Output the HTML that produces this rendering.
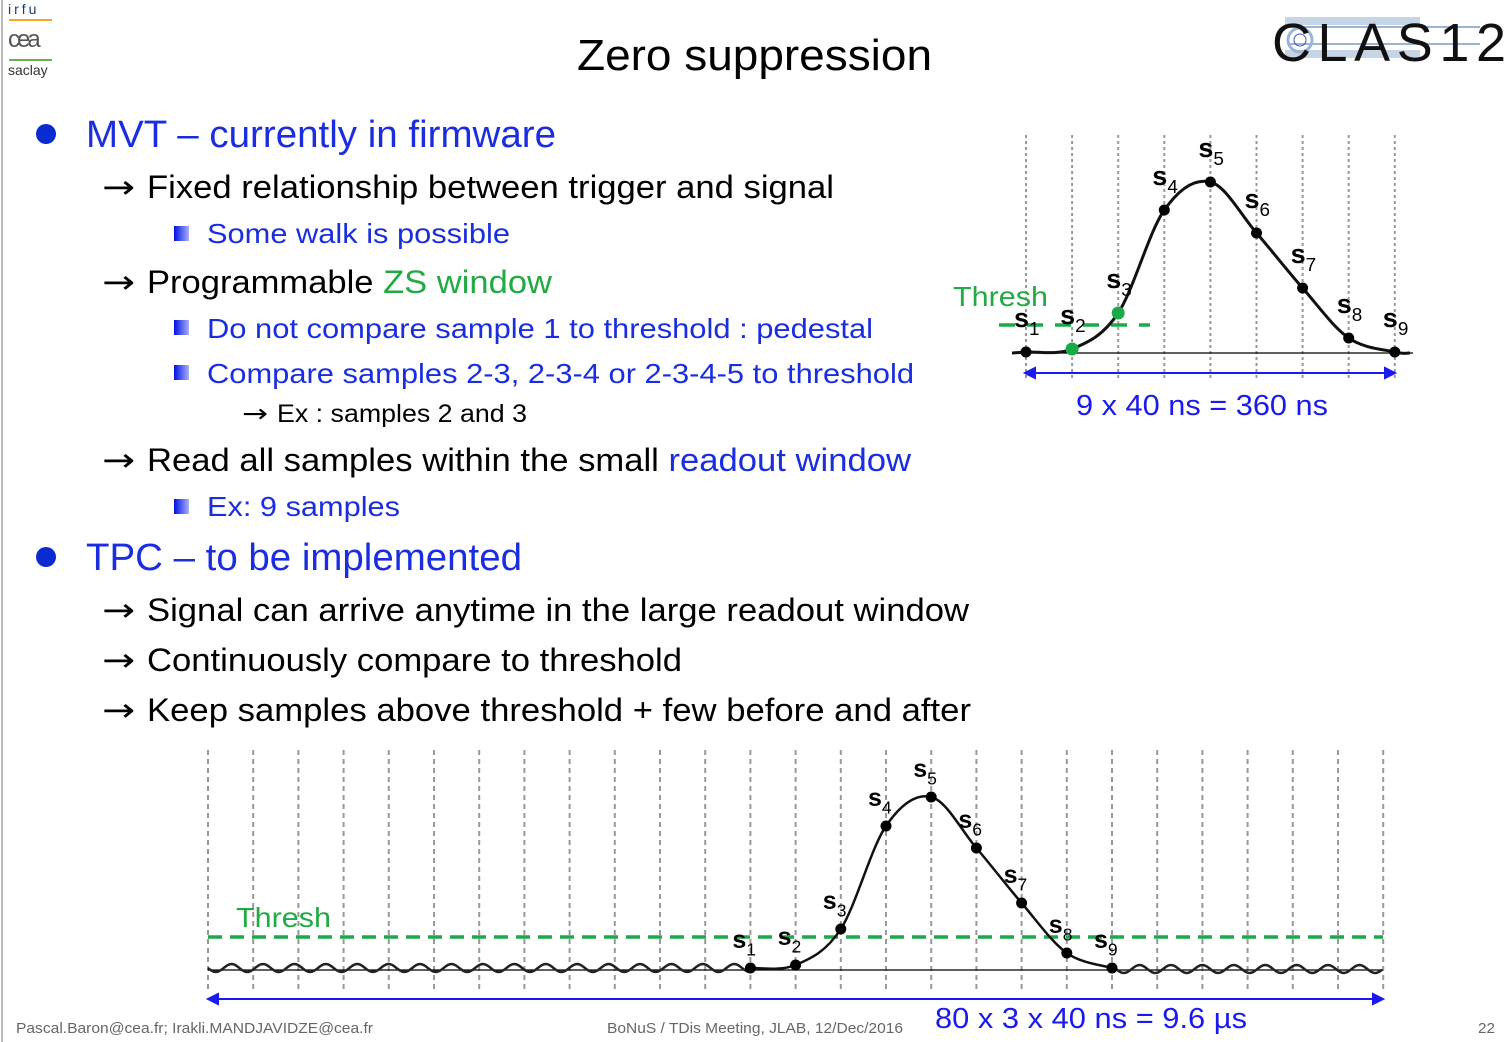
<!DOCTYPE html>
<html><head><meta charset="utf-8"><style>
html,body{margin:0;padding:0;background:#fff}
svg{display:block}
text{font-family:"Liberation Sans",sans-serif}
.arr{font-family:"DejaVu Sans",sans-serif}
</style></head><body>
<svg id="slide" width="1506" height="1042" viewBox="0 0 1506 1042" xmlns="http://www.w3.org/2000/svg">
<defs><linearGradient id="sq" x1="0" x2="1"><stop offset="0" stop-color="#0010e0"/><stop offset="1" stop-color="#aab0ff"/></linearGradient></defs>
<rect x="0" y="0" width="1506" height="1042" fill="#fff"/>
<line x1="2" y1="0" x2="2" y2="1042" stroke="#bbb" stroke-width="2"/>
<g>
<text x="8" y="14" font-size="14" fill="#1a3a7a" letter-spacing="3">irfu</text>
<line x1="9" y1="20" x2="52" y2="20" stroke="#f5a623" stroke-width="2"/>
<text x="8" y="47" font-size="24" fill="#555" letter-spacing="-3">cea</text>
<line x1="9" y1="60" x2="52" y2="60" stroke="#6ab04c" stroke-width="2"/>
<text x="8" y="75" font-size="14" fill="#333">saclay</text>
</g>
<g>
<rect x="1285" y="17" width="135" height="8" fill="#c5d5e5"/>
<rect x="1285" y="50" width="135" height="8" fill="#c5d5e5"/>
<line x1="1290" y1="27" x2="1480" y2="27" stroke="#7a9cc8" stroke-width="1.5"/>
<line x1="1290" y1="44" x2="1480" y2="44" stroke="#7a9cc8" stroke-width="1.5"/>
<circle cx="1300" cy="40" r="12" fill="none" stroke="#9ab5d8" stroke-width="3"/>
<circle cx="1300" cy="40" r="6" fill="none" stroke="#3a5ab0" stroke-width="1"/>
<text x="1272" y="61" font-size="54" fill="#111" textLength="234" lengthAdjust="spacing">CLAS12</text>
</g>
<text x="577" y="70" font-size="44" fill="#000" textLength="355" lengthAdjust="spacingAndGlyphs">Zero suppression</text>

<g font-size="32">
<circle cx="46" cy="134" r="10" fill="#0a2bcf"/>
<text x="86" y="147" font-size="38" fill="#1a2ee0" textLength="470" lengthAdjust="spacingAndGlyphs">MVT – currently in firmware</text>
<text class="arr" x="102" y="198" font-size="32" textLength="33" lengthAdjust="spacingAndGlyphs">→</text>
<text x="147" y="198" fill="#000" textLength="687" lengthAdjust="spacingAndGlyphs">Fixed relationship between trigger and signal</text>
<rect x="174" y="226" width="15" height="15" fill="url(#sq)"/>
<text x="207" y="243" font-size="28" fill="#1a2ee0" textLength="303" lengthAdjust="spacingAndGlyphs">Some walk is possible</text>
<text class="arr" x="102" y="293" font-size="32" textLength="33" lengthAdjust="spacingAndGlyphs">→</text>
<text x="147" y="293" fill="#000" textLength="405" lengthAdjust="spacingAndGlyphs">Programmable <tspan fill="#22aa44">ZS window</tspan></text>
<rect x="174" y="320" width="15" height="15" fill="url(#sq)"/>
<text x="207" y="338" font-size="28" fill="#1a2ee0" textLength="666" lengthAdjust="spacingAndGlyphs">Do not compare sample 1 to threshold : pedestal</text>
<rect x="174" y="365" width="15" height="15" fill="url(#sq)"/>
<text x="207" y="383" font-size="28" fill="#1a2ee0" textLength="707" lengthAdjust="spacingAndGlyphs">Compare samples 2-3, 2-3-4 or 2-3-4-5 to threshold</text>
<text class="arr" x="242" y="422" font-size="25" textLength="26" lengthAdjust="spacingAndGlyphs">→</text>
<text x="277" y="422" font-size="25" fill="#000" textLength="250" lengthAdjust="spacingAndGlyphs">Ex : samples 2 and 3</text>
<text class="arr" x="102" y="471" font-size="32" textLength="33" lengthAdjust="spacingAndGlyphs">→</text>
<text x="147" y="471" fill="#000" textLength="764" lengthAdjust="spacingAndGlyphs">Read all samples within the small <tspan fill="#1a2ee0">readout window</tspan></text>
<rect x="174" y="499" width="15" height="15" fill="url(#sq)"/>
<text x="207" y="516" font-size="28" fill="#1a2ee0" textLength="193" lengthAdjust="spacingAndGlyphs">Ex: 9 samples</text>
<circle cx="46" cy="557" r="10" fill="#0a2bcf"/>
<text x="86" y="570" font-size="38" fill="#1a2ee0" textLength="436" lengthAdjust="spacingAndGlyphs">TPC – to be implemented</text>
<text class="arr" x="102" y="621" font-size="32" textLength="33" lengthAdjust="spacingAndGlyphs">→</text>
<text x="147" y="621" fill="#000" textLength="822" lengthAdjust="spacingAndGlyphs">Signal can arrive anytime in the large readout window</text>
<text class="arr" x="102" y="671" font-size="32" textLength="33" lengthAdjust="spacingAndGlyphs">→</text>
<text x="147" y="671" fill="#000" textLength="535" lengthAdjust="spacingAndGlyphs">Continuously compare to threshold</text>
<text class="arr" x="102" y="721" font-size="32" textLength="33" lengthAdjust="spacingAndGlyphs">→</text>
<text x="147" y="721" fill="#000" textLength="824" lengthAdjust="spacingAndGlyphs">Keep samples above threshold + few before and after</text>
</g>

<g id="chart-top"></g>
<g id="chart-bot"></g>

<g font-size="15" fill="#666">
<text x="16" y="1033" textLength="357" lengthAdjust="spacingAndGlyphs">Pascal.Baron@cea.fr; Irakli.MANDJAVIDZE@cea.fr</text>
<text x="607" y="1033" textLength="296" lengthAdjust="spacingAndGlyphs">BoNuS / TDis Meeting, JLAB, 12/Dec/2016</text>
<text x="1478" y="1033" textLength="17" lengthAdjust="spacingAndGlyphs">22</text>
</g>
</svg>
<script>
// Data
const topSamples = [1, 4, 40, 143, 171, 120, 65, 15, 1];
const topGreen = [false, true, true, false, false, false, false, false, false];
const topThreshold = 28;
const botSamples = [2, 5, 41, 144, 173, 122, 67, 17, 2];
const botThreshold = 33;
const sampleLabels = ['1','2','3','4','5','6','7','8','9'];

const NS = 'http://www.w3.org/2000/svg';
function mk(parent, tag, attrs) {
  const e = document.createElementNS(NS, tag);
  for (const k in attrs) e.setAttribute(k, attrs[k]);
  parent.appendChild(e);
  return e;
}
function smoothPath(pts) {
  let d = 'M' + pts[0][0] + ',' + pts[0][1];
  for (let i = 0; i < pts.length - 1; i++) {
    const p0 = pts[Math.max(0, i - 1)], p1 = pts[i], p2 = pts[i + 1], p3 = pts[Math.min(pts.length - 1, i + 2)];
    const c1x = p1[0] + (p2[0] - p0[0]) / 6, c1y = p1[1] + (p2[1] - p0[1]) / 6;
    const c2x = p2[0] - (p3[0] - p1[0]) / 6, c2y = p2[1] - (p3[1] - p1[1]) / 6;
    d += ' C' + c1x + ',' + c1y + ' ' + c2x + ',' + c2y + ' ' + p2[0] + ',' + p2[1];
  }
  return d;
}
function label(g, x, y, n, size) {
  const t = mk(g, 'text', {x: x, y: y, 'font-size': size, fill: '#000', 'font-weight': 'bold'});
  
  
  t.textContent = 's';
  const sub = mk(t, 'tspan', {dy: size * 0.3, 'font-size': size * 0.7, 'font-weight': 'normal'});
  sub.textContent = n;
}

// ---- Top chart
(function () {
  const g = document.getElementById('chart-top');
  const x0 = 1026, dx = 46.1, base = 353;
  const xS = i => x0 + i * dx;
  const yS = v => base - v;
  for (let i = 0; i < 9; i++) {
    const l = mk(g, 'line', {x1: xS(i), y1: 135, x2: xS(i), y2: 378, stroke: '#999', 'stroke-width': 2, 'stroke-dasharray': '3,3'});
    
    
  }
  const bl = mk(g, 'line', {x1: 1012, y1: base, x2: 1413, y2: base, stroke: '#000', 'stroke-width': 1.3});
  
  
  const th = mk(g, 'line', {x1: 999, y1: yS(topThreshold), x2: 1150, y2: yS(topThreshold), stroke: '#1aaa4a', 'stroke-width': 3.5, 'stroke-dasharray': '16,12'});
  
  
  const tt = mk(g, 'text', {x: 953, y: 306, 'font-size': 28, fill: '#22aa44', textLength: 95, lengthAdjust: 'spacingAndGlyphs'});
  
  
  tt.textContent = 'Thresh';
  const pts = [[1012, yS(0)]].concat(topSamples.map((v, i) => [xS(i), yS(v)])).concat([[1410, yS(0)]]);
  const c = mk(g, 'path', {d: smoothPath(pts), fill: 'none', stroke: '#111', 'stroke-width': 3});
  
  
  topSamples.forEach((v, i) => {
    const p = mk(g, 'circle', {cx: xS(i), cy: yS(v), r: topGreen[i] ? 6.5 : 5.5, fill: topGreen[i] ? '#1aaa4a' : '#000'});
    
    
    label(g, xS(i) - 12, yS(v) - 25, sampleLabels[i], 27);
  });
  const ar = mk(g, 'path', {d: 'M1025,373 L1395,373 M1025,373 l10,-5 l0,10 z M1395,373 l-10,-5 l0,10 z', stroke: '#1a1aee', 'stroke-width': 2, fill: '#1a1aee'});
  
  
  const at = mk(g, 'text', {x: 1076, y: 415, 'font-size': 29, fill: '#1a1aee', textLength: 252, lengthAdjust: 'spacingAndGlyphs'});
  
  
  at.textContent = '9 x 40 ns = 360 ns';
})();

// ---- Bottom chart
(function () {
  const g = document.getElementById('chart-bot');
  const x0 = 208, dx = 45.2, base = 970, first = 12;
  const xG = i => x0 + i * dx;
  const yS = v => base - v;
  for (let i = 0; i < 27; i++) {
    const l = mk(g, 'line', {x1: xG(i), y1: 750, x2: xG(i), y2: 990, stroke: '#999', 'stroke-width': 2, 'stroke-dasharray': '5,4'});
    
    
  }
  const bl = mk(g, 'line', {x1: 208, y1: base, x2: 1383, y2: base, stroke: '#000', 'stroke-width': 1.3});
  
  
  // noise (decorative)
  let d = 'M208,' + (base - 2);
  for (let x = 210; x <= xG(first); x += 2) d += ' L' + x + ',' + (base - 2 + 4 * Math.sin((x - 208) / 5));
  let d2 = 'M' + xG(first + 8) + ',' + (base - 2);
  for (let x = xG(first + 8) + 2; x <= 1383; x += 2) d2 += ' L' + x + ',' + (base - 1 + 4 * Math.sin((x - 1116) / 5));
  const nz = mk(g, 'path', {d: d + ' ' + d2, fill: 'none', stroke: '#222', 'stroke-width': 2.5});
  
  
  const th = mk(g, 'line', {x1: 208, y1: yS(botThreshold), x2: 1383, y2: yS(botThreshold), stroke: '#1aaa4a', 'stroke-width': 3.5, 'stroke-dasharray': '14,8'});
  
  
  const tt = mk(g, 'text', {x: 236, y: 927, 'font-size': 28, fill: '#22aa44', textLength: 95, lengthAdjust: 'spacingAndGlyphs'});
  
  
  tt.textContent = 'Thresh';
  const pts = botSamples.map((v, i) => [xG(first + i), yS(v)]);
  const c = mk(g, 'path', {d: smoothPath(pts), fill: 'none', stroke: '#111', 'stroke-width': 2.5});
  
  
  botSamples.forEach((v, i) => {
    const p = mk(g, 'circle', {cx: xG(first + i), cy: yS(v), r: 5.5, fill: '#000'});
    
    
    label(g, xG(first + i) - 18, yS(v) - 20, sampleLabels[i], 25);
  });
  const ar = mk(g, 'path', {d: 'M208,999 L1383,999 M208,999 l10,-5 l0,10 z M1383,999 l-10,-5 l0,10 z', stroke: '#1a1aee', 'stroke-width': 2, fill: '#1a1aee'});
  
  
  const at = mk(g, 'text', {x: 935, y: 1028, 'font-size': 29, fill: '#1a1aee', textLength: 312, lengthAdjust: 'spacingAndGlyphs'});
  
  
  at.textContent = '80 x 3 x 40 ns = 9.6 µs';
})();
</script>
</body></html>
